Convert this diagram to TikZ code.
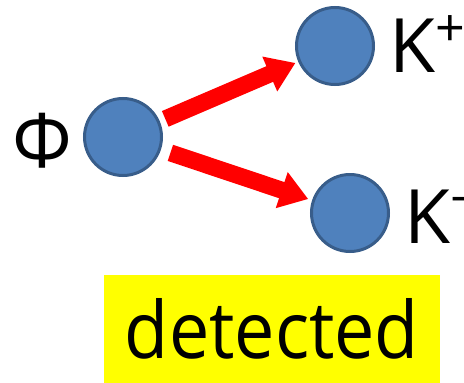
\documentclass[tikz,border=0pt]{standalone}
\usepackage{fontspec}
\setmainfont{Open Sans}
\usetikzlibrary{arrows.meta}
\definecolor{ballfill}{HTML}{4F81BD}
\definecolor{ballline}{HTML}{385D8A}
\definecolor{arrowred}{HTML}{FF0000}
\definecolor{markyellow}{HTML}{FFFF00}
\newcommand{\charge}[1]{\raisebox{26pt}{\fontsize{52}{56}\selectfont #1}}
\tikzset{
  particle/.style={circle, fill=ballfill, draw=ballline, line width=3pt, minimum size=77pt, inner sep=0pt},
  plabel/.style={inner sep=0pt, anchor=base west, font=\fontsize{75}{80}\selectfont},
  decay/.style={draw=arrowred, line width=17pt, -{Triangle[width=36pt,length=28pt]}},
}
\begin{document}
\begin{tikzpicture}[x=1pt, y=-1pt]
  \useasboundingbox (0,0) rectangle (464,383);
  % particles
  \node[particle] (phi) at (123,137) {};
  \node[particle] (kp) at (335,46) {};
  \node[particle] (km) at (350,213) {};
  % labels
  \node[inner sep=0pt, anchor=base, font=\fontsize{75}{80}\selectfont] (phil) at (42,167) {Φ};
  \node[plabel] (kpl) at (389,72) {K\charge{+}};
  \node[plabel] (kml) at (404,243) {K\charge{−}};
  % decay arrows
  \draw[decay, shorten <=6pt, shorten >=3pt] (phi) -- (kp);
  \draw[decay, shorten <=10pt, shorten >=4pt] (phi) -- (km);
  % tag
  \node[fill=markyellow, minimum width=336pt, minimum height=108pt, inner sep=0pt,
        font=\fontsize{79}{84}\selectfont] (tag) at (272,329) {\scalebox{0.91}[1]{detected}};
\end{tikzpicture}
\end{document}
